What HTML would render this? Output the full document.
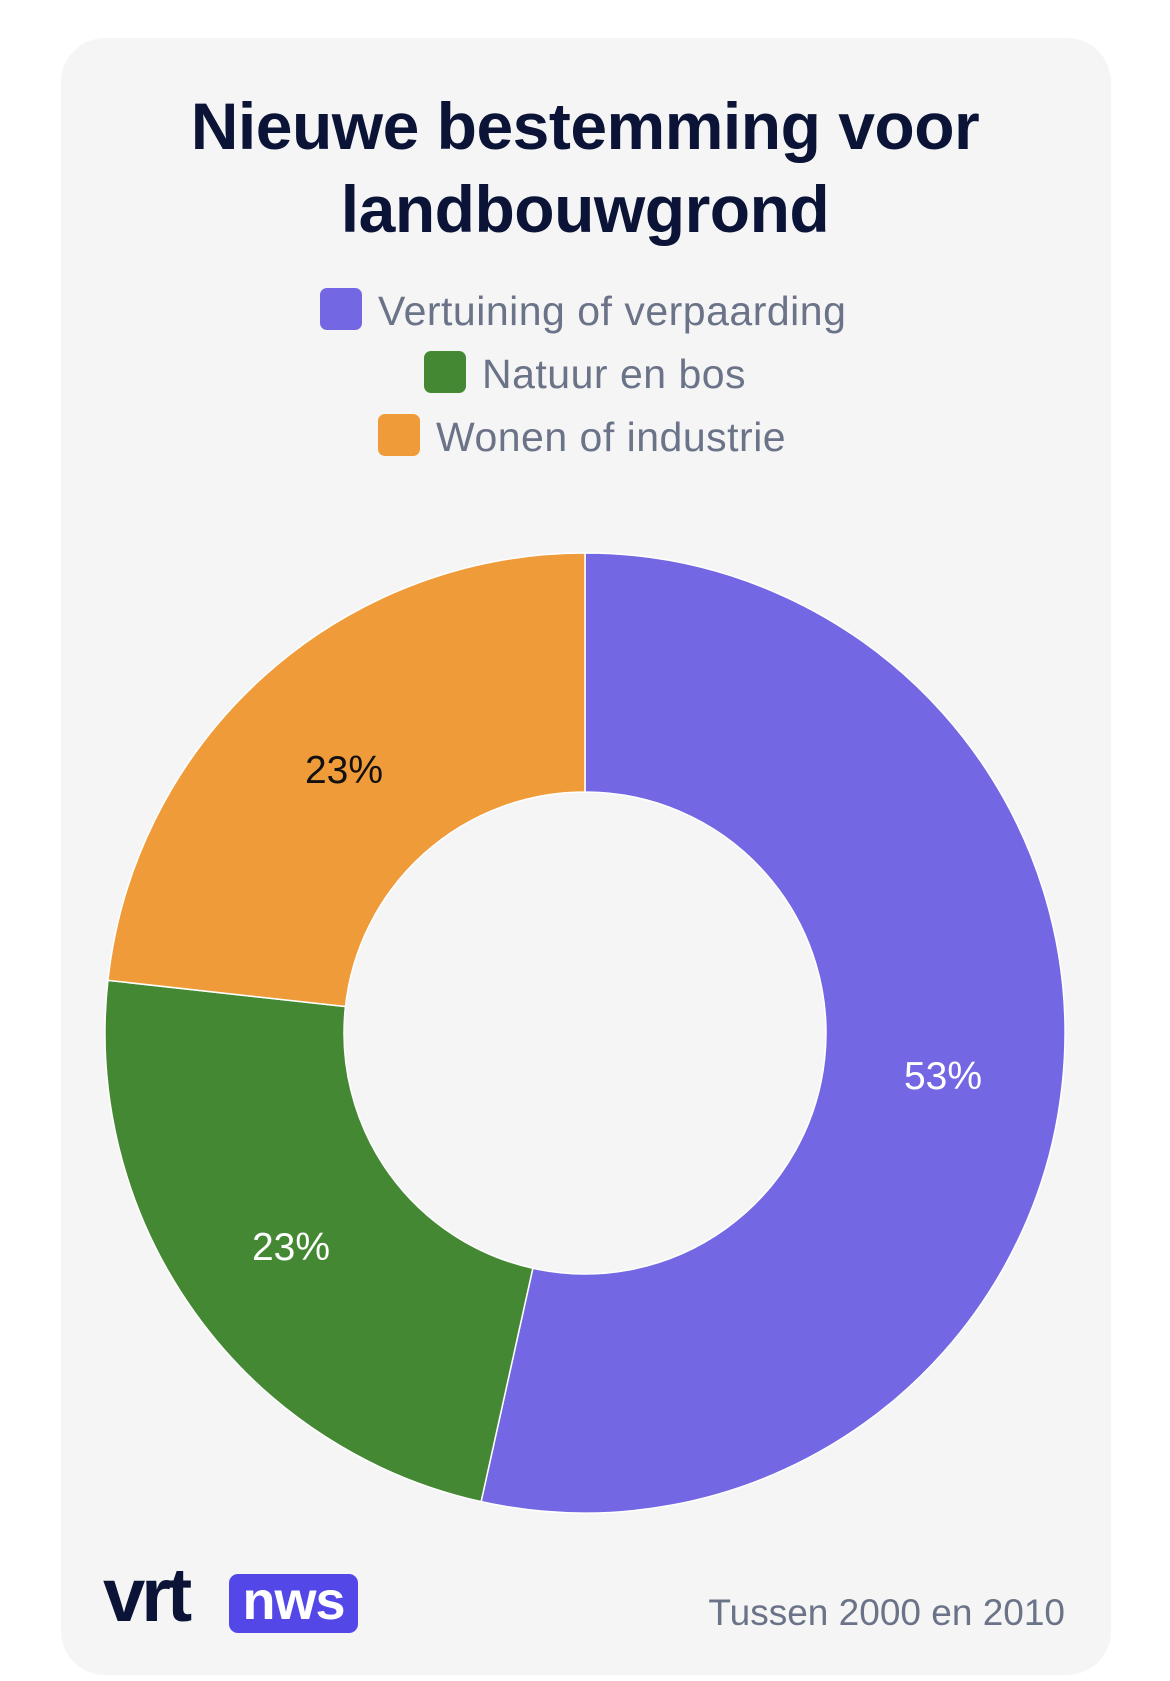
<!DOCTYPE html>
<html><head><meta charset="utf-8"><style>
html,body{margin:0;padding:0;background:#fff;width:1170px;height:1681px;overflow:hidden;font-family:"Liberation Sans",sans-serif}
.card{position:absolute;left:61px;top:38px;width:1050px;height:1637px;background:#f5f5f5;border-radius:44px}
.t{position:absolute;left:0;width:1170px;text-align:center;font-weight:bold;color:#0b1437;font-size:66px;letter-spacing:-0.5px}
.lg{position:absolute;font-size:41px;letter-spacing:0.5px;color:#6b7388;white-space:nowrap}
.sw{position:absolute;width:42px;height:42px;border-radius:7px}
</style></head><body>
<div class="card"></div>
<div class="t" style="top:86px;line-height:80px">Nieuwe bestemming voor</div>
<div class="t" style="top:169px;line-height:80px">landbouwgrond</div>

<div class="sw" style="left:320px;top:288px;background:#7367e3"></div>
<div class="lg" style="left:378px;top:288px">Vertuining of verpaarding</div>
<div class="sw" style="left:424px;top:351px;background:#458833"></div>
<div class="lg" style="left:482px;top:351px">Natuur en bos</div>
<div class="sw" style="left:378px;top:414px;background:#ef9b3a"></div>
<div class="lg" style="left:436px;top:414px">Wonen of industrie</div>

<svg style="position:absolute;left:0;top:0" width="1170" height="1681">
<g stroke="#fff" stroke-width="1.5">
<path id="p" d="" fill="#7367e3"/>
</g>
<script>
(function(){
var cx=585,cy=1033,R=480,r=241;
var segs=[[0,192.5,'#7367e3'],[192.5,276.3,'#458833'],[276.3,360,'#ef9b3a']];
var g=document.querySelector('g');g.innerHTML='';
function pt(a,rad){var t=a*Math.PI/180;return [cx+rad*Math.sin(t),cy-rad*Math.cos(t)];}
segs.forEach(function(s){
var a=pt(s[0],R),b=pt(s[1],R),c=pt(s[1],r),d=pt(s[0],r);var large=(s[1]-s[0])>180?1:0;
var p=document.createElementNS('http://www.w3.org/2000/svg','path');
p.setAttribute('d','M'+a+' A'+R+' '+R+' 0 '+large+' 1 '+b+' L'+c+' A'+r+' '+r+' 0 '+large+' 0 '+d+' Z');
p.setAttribute('fill',s[2]);g.appendChild(p);});
})();
</script>
<g font-family="Liberation Sans, sans-serif" font-size="39" text-anchor="middle">
<text x="943" y="1089" fill="#fff">53%</text>
<text x="344" y="783" fill="#111">23%</text>
<text x="291" y="1260" fill="#fff">23%</text>
</g>
</svg>

<div style="position:absolute;left:103px;top:1556px;font-size:76px;font-weight:bold;color:#0b1437;letter-spacing:-4px;line-height:80px">vrt</div>
<div style="position:absolute;left:229px;top:1574px;width:129px;height:59px;background:#5447e8;border-radius:9px;color:#fff;font-weight:bold;font-size:54px;line-height:54px;text-align:center;letter-spacing:-1px">nws</div>
<div style="position:absolute;right:105px;top:1592px;font-size:37px;color:#6b7388;white-space:nowrap">Tussen 2000 en 2010</div>
</body></html>
